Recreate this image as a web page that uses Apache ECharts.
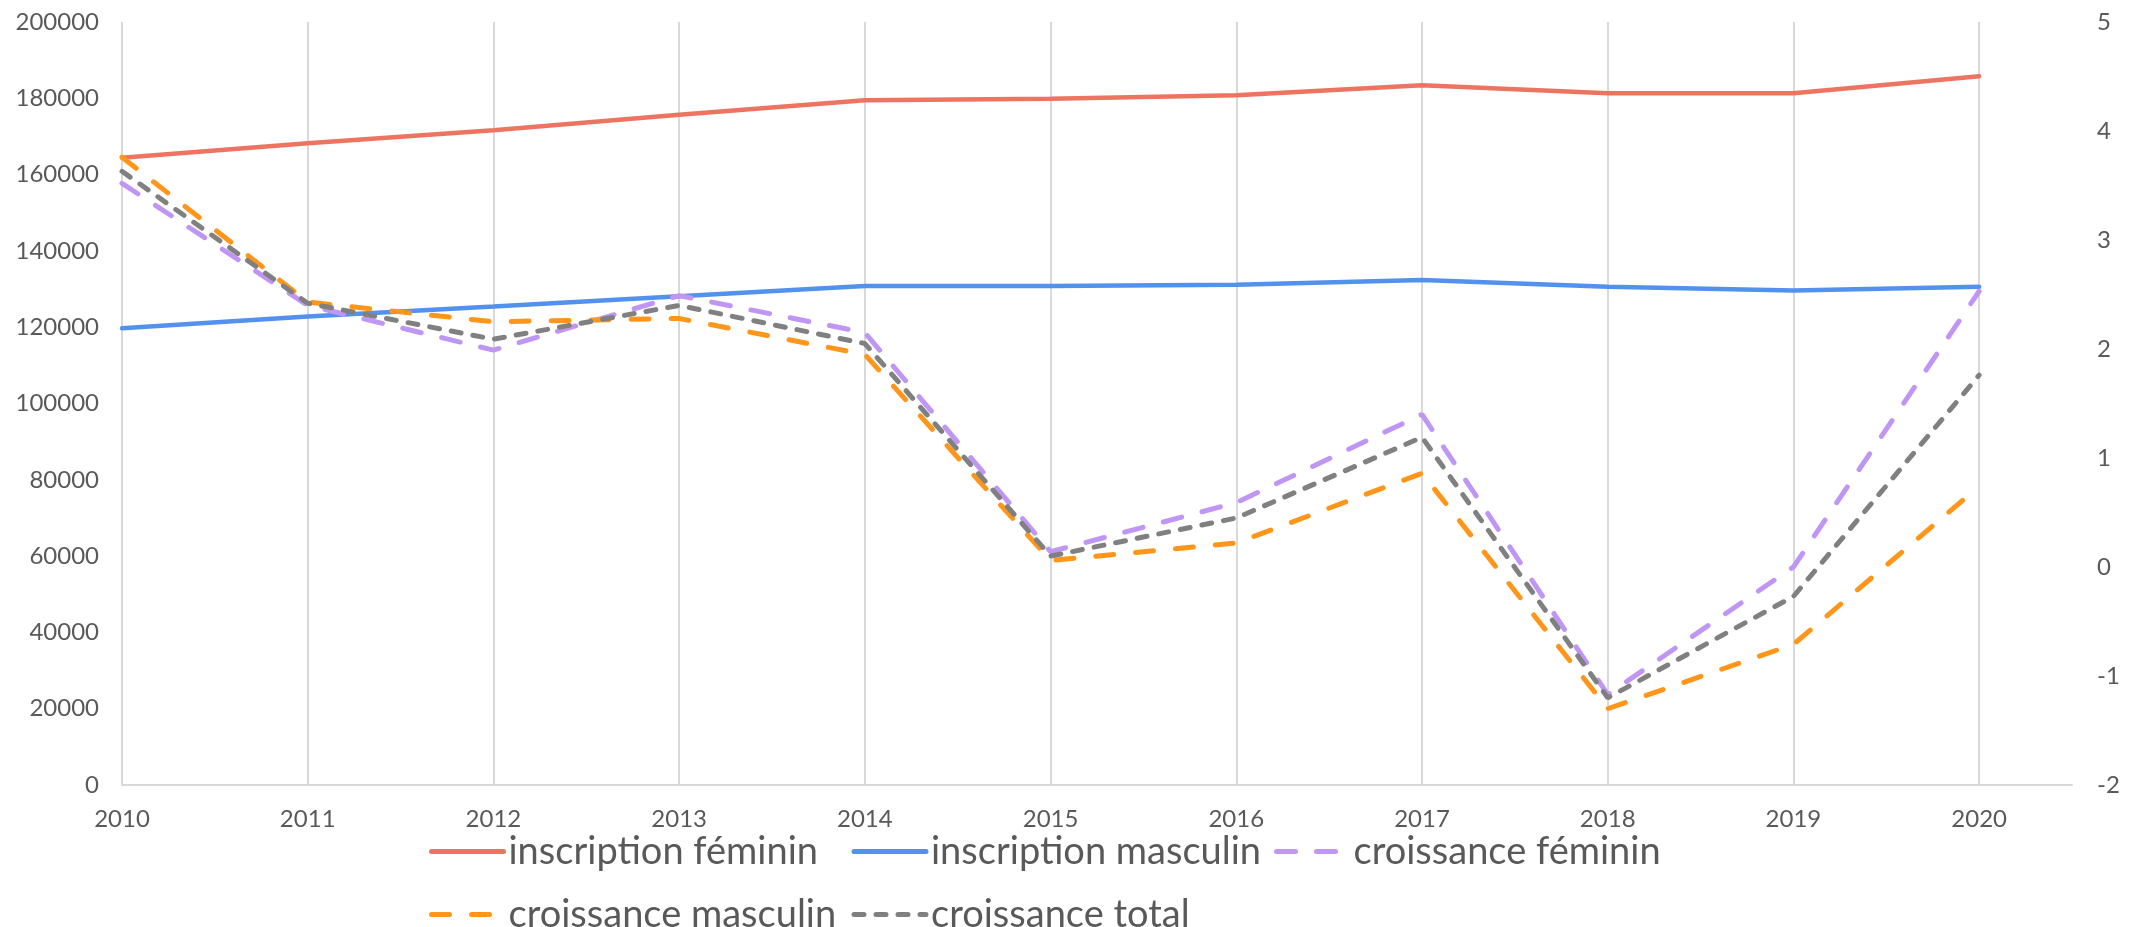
<!DOCTYPE html>
<html>
<head>
<meta charset="utf-8">
<script src="https://cdn.jsdelivr.net/npm/echarts@6/dist/echarts.min.js"></script>
<style>
  html, body { margin: 0; padding: 0; background: #fff; }
  #chart { width: 2138px; height: 927px; }
</style>
</head>
<body>
<div id="chart"></div>
<script>
const years = [2010, 2011, 2012, 2013, 2014, 2015, 2016, 2017, 2018, 2019, 2020]
const inscriptionFeminin = [164400, 168200, 171600, 175700, 179500, 179900, 180800, 183400, 181300, 181300, 185800]
const inscriptionMasculin = [119700, 122800, 125400, 128100, 130800, 130800, 131100, 132400, 130600, 129600, 130600]
const croissanceFeminin = [3.52, 2.40, 1.99, 2.49, 2.15, 0.14, 0.59, 1.40, -1.17, 0.00, 2.53]
const croissanceMasculin = [3.76, 2.43, 2.25, 2.28, 1.95, 0.06, 0.22, 0.86, -1.30, -0.71, 0.74]
const croissanceTotal = [3.63, 2.42, 2.09, 2.40, 2.05, 0.10, 0.45, 1.19, -1.20, -0.27, 1.76]

const pairs = arr => years.map((y, i) => [y, arr[i]])

const font = 'Lato, "Open Sans", sans-serif'
const labelColor = '#595959'
const gridColor = '#d9d9d9'

const chart = echarts.init(document.getElementById('chart'))

const option = {
  animation: false,
  backgroundColor: '#fff',
  grid: { left: 122, right: 66, top: 22, bottom: 142 },
  legend: {
    left: 429,
    top: 824,
    width: 1300,
    padding: 0,
    itemWidth: 72,
    itemHeight: 20,
    itemGap: 8,
    itemStyle: { opacity: 0 },
    lineStyle: { width: 5, cap: 'round' },
    textStyle: { color: labelColor, fontFamily: font, fontSize: 38, width: 335, lineHeight: 55 },
    data: ['inscription féminin', 'inscription masculin', 'croissance féminin', 'croissance masculin', 'croissance total']
  },
  xAxis: {
    type: 'value',
    min: 2010,
    max: 2020.5,
    interval: 1,
    axisLine: { show: true, lineStyle: { color: gridColor, width: 2 } },
    axisTick: { show: false },
    axisLabel: {
      color: labelColor,
      fontFamily: font,
      fontSize: 24,
      margin: 22,
      showMaxLabel: false,
      formatter: v => (Number.isInteger(v) ? String(v) : '')
    },
    splitLine: { show: true, showMaxLine: false, lineStyle: { color: gridColor, width: 2 } }
  },
  yAxis: [
    {
      type: 'value',
      min: 0,
      max: 200000,
      interval: 20000,
      axisLine: { show: false },
      axisTick: { show: false },
      splitLine: { show: false },
      axisLabel: { color: labelColor, fontFamily: font, fontSize: 24, margin: 23, formatter: v => String(v) }
    },
    {
      type: 'value',
      min: -2,
      max: 5,
      interval: 1,
      position: 'right',
      axisLine: { show: false },
      axisTick: { show: false },
      splitLine: { show: false },
      axisLabel: { color: labelColor, fontFamily: font, fontSize: 24, margin: 25, formatter: v => String(v) }
    }
  ],
  series: [
    {
      name: 'inscription féminin',
      type: 'line',
      data: pairs(inscriptionFeminin),
      symbol: 'none',
      color: '#ed7460',
      lineStyle: { color: '#ed7460', width: 4.5, cap: 'round' }
    },
    {
      name: 'inscription masculin',
      type: 'line',
      data: pairs(inscriptionMasculin),
      symbol: 'none',
      color: '#5292ed',
      lineStyle: { color: '#5292ed', width: 4.5, cap: 'round' }
    },
    {
      name: 'croissance féminin',
      type: 'line',
      yAxisIndex: 1,
      data: pairs(croissanceFeminin),
      symbol: 'none',
      color: '#c096f5',
      lineStyle: { color: '#c096f5', width: 5, type: [19, 21], cap: 'round' }
    },
    {
      name: 'croissance masculin',
      type: 'line',
      yAxisIndex: 1,
      data: pairs(croissanceMasculin),
      symbol: 'none',
      color: '#ff9619',
      lineStyle: { color: '#ff9619', width: 5, type: [18, 22], cap: 'round' }
    },
    {
      name: 'croissance total',
      type: 'line',
      yAxisIndex: 1,
      data: pairs(croissanceTotal),
      symbol: 'none',
      color: '#808080',
      lineStyle: { color: '#808080', width: 5, type: [10, 12], cap: 'round' }
    }
  ]
}

chart.setOption(option)
</script>
</body>
</html>
